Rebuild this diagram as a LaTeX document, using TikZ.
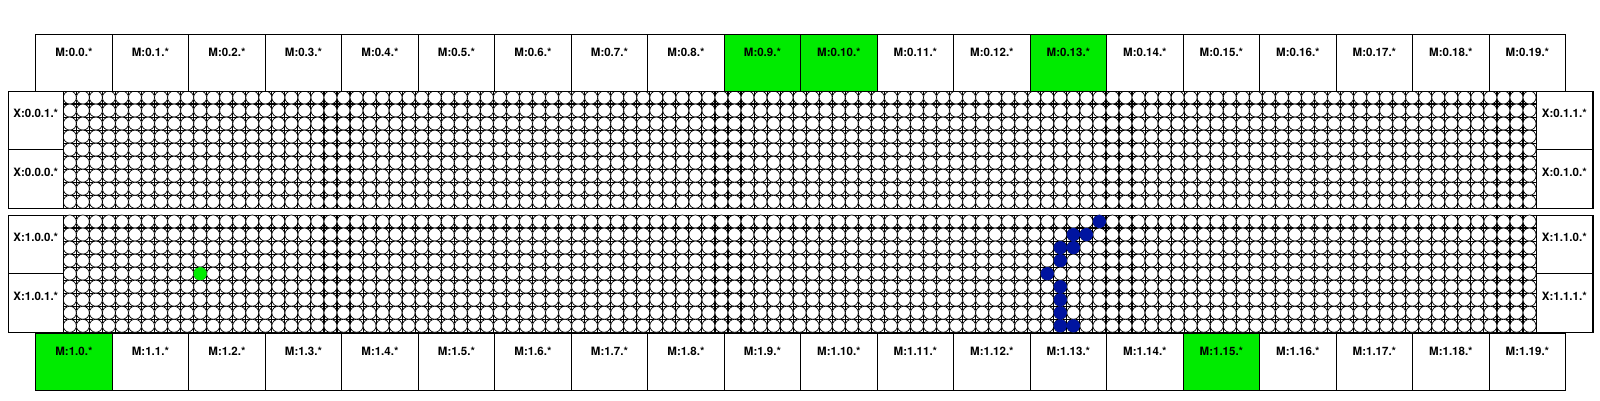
\documentclass[tikz,border=0pt]{standalone}
\usepackage{fontspec}
\setmainfont{TeX Gyre Heros}
\usetikzlibrary{positioning}
\definecolor{hitgreen}{RGB}{0,235,0}
\definecolor{hitblue}{RGB}{0,20,160}
\tikzstyle{mbox} = [
        rectangle, draw, line width=0.8pt,
        minimum width=76.5pt, minimum height=56.7pt,
        inner sep=0pt, text height=22.5pt, text depth=34.2pt,
        font=\fontsize{11.5}{13}\selectfont\bfseries
    ]
\tikzstyle{xbox} = [
        rectangle, draw, fill=white, line width=0.8pt,
        minimum height=58.65pt,
        inner sep=0pt, text height=27pt, text depth=31.65pt,
        font=\fontsize{11.5}{13}\selectfont\bfseries
    ]
\tikzstyle{panel} = [rectangle, draw, fill=white, line width=0.8pt,
        minimum width=1584.4pt, minimum height=117.3pt, inner sep=0pt]
\tikzstyle{cross} = [line width=1.1pt]
\tikzstyle{cell} = [draw, fill=white, line width=0.7pt]

\begin{document}
\begin{tikzpicture}[x=1pt, y=-1pt]
    \useasboundingbox (0,0) rectangle (1600,400);

    % the two chip panels with their cells
    \foreach \p/\top in {0/91, 1/215} {
        \node [panel, anchor=north west] (panel\p) at (8.3,\top) {};
        \foreach \c in {0,...,112}
            \foreach \r in {0,...,8}
                \draw [cell] ({63.3+(\c+0.5)*13.033},{\top+(\r+0.5)*13.033}) circle [radius=6.52pt];
    }

    % hit cells
    \fill [hitgreen] ({63.3+10.5*13.033},{215+4.5*13.033}) circle [radius=6.6pt];
    \foreach \c/\r in {79/0, 77/1, 78/1, 76/2, 77/2, 76/3, 75/4, 76/5, 76/6, 76/7, 76/8, 77/8}
        \fill [hitblue] ({63.3+(\c+0.5)*13.033},{215+(\r+0.5)*13.033}) circle [radius=6.6pt];

    % corner crosses
    \foreach \top in {91, 215} {
        \begin{scope}
            \clip (63.3,\top) rectangle ++(1472.7,117.3);
            \foreach \c in {0,...,113}
                \foreach \r in {0,...,9}
                    \draw [cross] ({63.3+\c*13.033-4},{\top+\r*13.033}) -- ++(8,0)
                        ({63.3+\c*13.033},{\top+\r*13.033-4}) -- ++(0,8);
        \end{scope}
    }

    % side boxes
    \node [xbox, minimum width=55pt] (x001) at (35.8,120.3) {X:0.0.1.*};
    \node [xbox, minimum width=55pt] (x000) at (35.8,178.95) {X:0.0.0.*};
    \node [xbox, minimum width=56.7pt] (x011) at (1564.35,120.3) {X:0.1.1.*};
    \node [xbox, minimum width=56.7pt] (x010) at (1564.35,178.95) {X:0.1.0.*};
    \node [xbox, minimum width=55pt] (x100) at (35.8,244.3) {X:1.0.0.*};
    \node [xbox, minimum width=55pt] (x101) at (35.8,302.95) {X:1.0.1.*};
    \node [xbox, minimum width=56.7pt] (x110) at (1564.35,244.3) {X:1.1.0.*};
    \node [xbox, minimum width=56.7pt] (x111) at (1564.35,302.95) {X:1.1.1.*};

    % module boxes, top and bottom rows
    \foreach \i in {0,...,19} {
        \ifnum\i=9 \def\boxfill{hitgreen}\else
        \ifnum\i=10 \def\boxfill{hitgreen}\else
        \ifnum\i=13 \def\boxfill{hitgreen}\else
        \def\boxfill{white}\fi\fi\fi
        \node [mbox, fill=\boxfill] (m0-\i) at ({73.95+76.5*\i},62.65) {M:0.\i.*};
    }
    \foreach \i in {0,...,19} {
        \ifnum\i=0 \def\boxfill{hitgreen}\else
        \ifnum\i=15 \def\boxfill{hitgreen}\else
        \def\boxfill{white}\fi\fi
        \node [mbox, fill=\boxfill] (m1-\i) at ({73.95+76.5*\i},361.65) {M:1.\i.*};
    }
\end{tikzpicture}
\end{document}
